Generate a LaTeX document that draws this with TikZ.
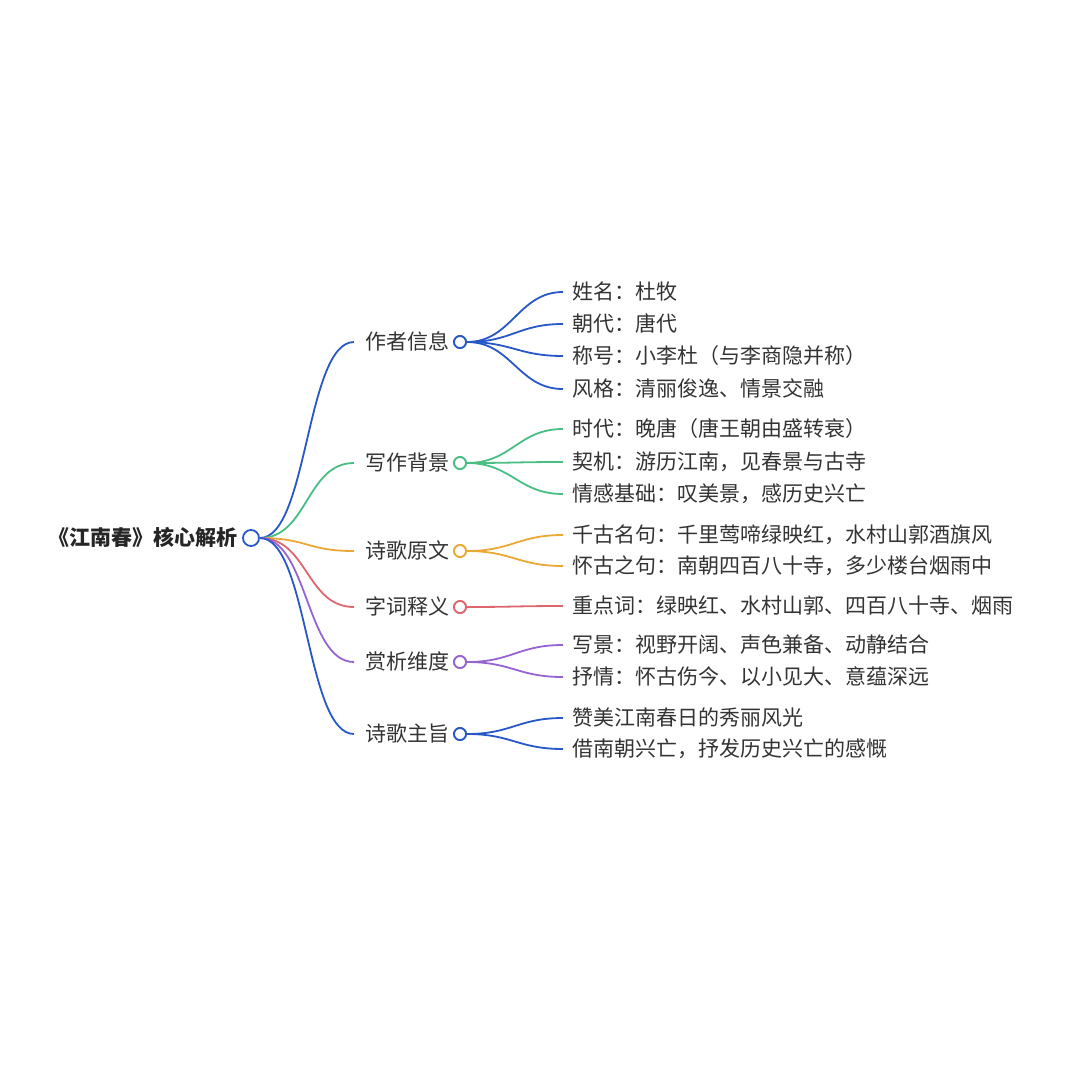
\documentclass[tikz,border=0pt]{standalone}
\usepackage{fontspec}
\setmainfont{Noto Sans CJK SC}
\definecolor{mapblue}{RGB}{40, 88, 200}
\definecolor{mapgreen}{RGB}{72, 190, 130}
\definecolor{maporange}{RGB}{236, 168, 52}
\definecolor{mapred}{RGB}{222, 102, 110}
\definecolor{mappurple}{RGB}{150, 100, 210}
\definecolor{maptext}{RGB}{51, 51, 51}
\usetikzlibrary{calc}

\begin{document}
\begin{tikzpicture}[x=1pt, y=-1pt,
  txt/.style={font=\fontsize{21pt}{21pt}\selectfont, text=maptext, inner ysep=0pt, text height=1.5em, text depth=0.04em},
  topic/.style={txt, anchor=west, inner xsep=11pt},
  leaf/.style={txt, anchor=west, inner xsep=9pt},
  knot/.style={circle, draw=#1, fill=white, line width=1.8pt, minimum size=12pt, inner sep=0pt},
  link/.style={draw=#1, line width=1.8pt}
]
  \useasboundingbox (0,0) rectangle (1080,1080);

  % root
  \node[txt, anchor=east, inner xsep=0pt, text=black!85, font=\fontsize{21pt}{21pt}\selectfont\bfseries] (root) at (238,538) {《江南春》核心解析};
  \node[knot=mapblue, minimum size=16pt] (rk) at (251,538) {};

  % first level
  \node[topic] (zz) at (354,342) {作者信息};
  \node[topic] (bj) at (354,463) {写作背景};
  \node[topic] (yw) at (354,551) {诗歌原文};
  \node[topic] (ci) at (354,607) {字词释义};
  \node[topic] (sx) at (354,662) {赏析维度};
  \node[topic] (zh) at (354,734) {诗歌主旨};

  \draw[link=mapblue] (rk.east) .. controls +(48,0) and +(-48,0) .. (zz.west);
  \draw[link=mapgreen] (rk.east) .. controls +(48,0) and +(-48,0) .. (bj.west);
  \draw[link=maporange] (rk.east) .. controls +(48,0) and +(-48,0) .. (yw.west);
  \draw[link=mapred] (rk.east) .. controls +(48,0) and +(-48,0) .. (ci.west);
  \draw[link=mappurple] (rk.east) .. controls +(48,0) and +(-48,0) .. (sx.west);
  \draw[link=mapblue] (rk.east) .. controls +(48,0) and +(-48,0) .. (zh.west);

  % leaves
  \node[leaf] (zz1) at (563,292) {姓名：杜牧};
  \node[leaf] (zz2) at (563,324) {朝代：唐代};
  \node[leaf] (zz3) at (563,356) {称号：小李杜（与李商隐并称）};
  \node[leaf] (zz4) at (563,389) {风格：清丽俊逸、情景交融};
  \node[leaf] (bj1) at (563,429) {时代：晚唐（唐王朝由盛转衰）};
  \node[leaf] (bj2) at (563,462) {契机：游历江南，见春景与古寺};
  \node[leaf] (bj3) at (563,494) {情感基础：叹美景，感历史兴亡};
  \node[leaf] (yw1) at (563,535) {千古名句：千里莺啼绿映红，水村山郭酒旗风};
  \node[leaf] (yw2) at (563,566) {怀古之句：南朝四百八十寺，多少楼台烟雨中};
  \node[leaf] (ci1) at (563,606) {重点词：绿映红、水村山郭、四百八十寺、烟雨};
  \node[leaf] (sx1) at (563,645) {写景：视野开阔、声色兼备、动静结合};
  \node[leaf] (sx2) at (563,677) {抒情：怀古伤今、以小见大、意蕴深远};
  \node[leaf] (zh1) at (563,718) {赞美江南春日的秀丽风光};
  \node[leaf] (zh2) at (563,749) {借南朝兴亡，抒发历史兴亡的感慨};

  \foreach \k/\c/\n in {zz/mapblue/4, bj/mapgreen/3, yw/maporange/2, ci/mapred/1, sx/mappurple/2, zh/mapblue/2}{
    \node[knot=\c] (\k k) at ($(\k.west)+(106,0)$) {};
    \foreach \i in {1,...,\n}
      \draw[link=\c] (\k k.east) .. controls +(45,0) and +(-45,0) .. (\k\i.west);
    \node[knot=\c] at (\k k) {};
  }
\end{tikzpicture}
\end{document}
